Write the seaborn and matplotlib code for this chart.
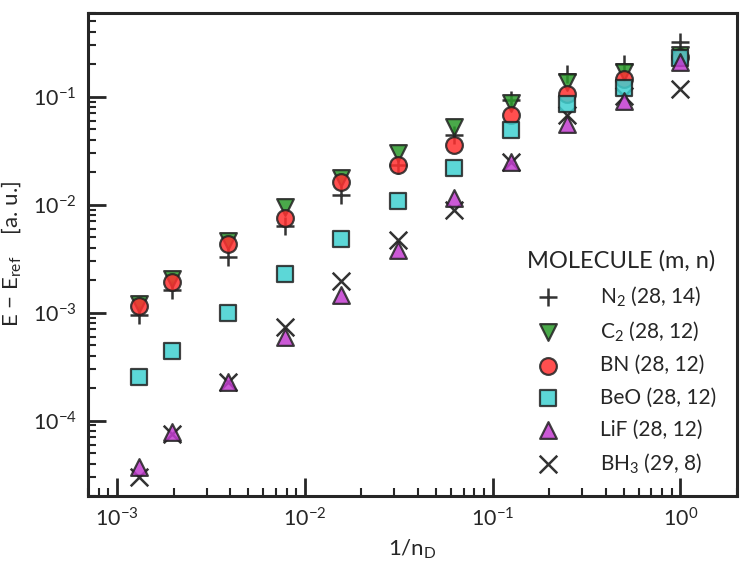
import numpy as np
import pandas as pd
import matplotlib
matplotlib.use("Agg")
import matplotlib.pyplot as plt
import seaborn as sns

# data
n_d = [768, 512, 256, 128, 64, 32, 16, 8, 4, 2, 1]
inv_nd = [1.0 / n for n in n_d]

err_n2 = [9.5e-4, 1.63e-3, 3.3e-3, 6.4e-3, 1.24e-2, 2.35e-2, 4.4e-2, 9.4e-2, 0.163, 0.202, 0.32]
err_c2 = [1.2e-3, 2.07e-3, 4.6e-3, 9.6e-3, 1.75e-2, 3.03e-2, 5.2e-2, 8.8e-2, 0.136, 0.17, 0.245]
err_bn = [1.14e-3, 1.94e-3, 4.35e-3, 7.6e-3, 1.63e-2, 2.35e-2, 3.6e-2, 6.8e-2, 0.107, 0.147, 0.235]
err_beo = [2.55e-4, 4.45e-4, 1.0e-3, 2.3e-3, 4.85e-3, 1.07e-2, 2.2e-2, 4.95e-2, 0.086, 0.121, 0.23]
err_lif = [3.75e-5, 7.9e-5, 2.3e-4, 6.0e-4, 1.47e-3, 3.8e-3, 1.16e-2, 2.5e-2, 0.056, 0.092, 0.21]
err_bh3 = [2.97e-5, 7.5e-5, 2.3e-4, 7.4e-4, 1.98e-3, 4.7e-3, 9.0e-3, 2.5e-2, 0.067, 0.102, 0.118]

labels = ["N$_2$ (28, 14)", "C$_2$ (28, 12)", "BN (28, 12)",
          "BeO (28, 12)", "LiF (28, 12)", "BH$_3$ (29, 8)"]
series = [err_n2, err_c2, err_bn, err_beo, err_lif, err_bh3]
markers = ["+", "v", "o", "s", "^", "x"]
colors = ["#333333", "#2a9a2a", "#ff3030", "#3fd0d0", "#c23ccf", "#333333"]
zorders = [2.0, 2.1, 2.2, 2.3, 2.4, 1.9]

sns.set_style("ticks")
plt.rcParams["font.family"] = ["Lato", "DejaVu Sans"]
plt.rcParams["mathtext.fontset"] = "custom"
plt.rcParams["mathtext.rm"] = "Lato"
plt.rcParams["mathtext.it"] = "Lato:italic"
plt.rcParams["mathtext.bf"] = "Lato:bold"

fig = plt.figure(figsize=(7.5, 5.63), dpi=100)
ax = fig.add_axes([0.1173, 0.119, 0.8654, 0.8584])

for lab, vals, mk, col, zo in zip(labels, series, markers, colors, zorders):
    df = pd.DataFrame({"x": inv_nd, "y": vals})
    if mk in ("+", "x"):
        sns.scatterplot(data=df, x="x", y="y", ax=ax, marker=mk, s=160,
                        color=col, linewidth=1.8, label=lab, zorder=zo)
    else:
        sns.scatterplot(data=df, x="x", y="y", ax=ax, marker=mk, s=145,
                        color=col, edgecolor="#222222", linewidth=1.6,
                        alpha=0.85, label=lab, zorder=zo)

ax.set_xscale("log")
ax.set_yscale("log")
ax.set_xlim(7e-4, 2.0)
ax.set_ylim(2e-5, 0.6)

ax.set_xlabel("1/n$_{\\rm D}$", fontsize=16, labelpad=5)
ax.set_ylabel("E $-$ E$_{\\rm ref}$    [a. u.]", fontsize=16, labelpad=7)

ax.tick_params(which="major", direction="in", length=13, width=2,
               labelsize=15.5, top=False, right=False, pad=8)
ax.tick_params(which="minor", direction="in", length=6, width=1.5,
               top=False, right=False)
for sp in ax.spines.values():
    sp.set_linewidth(2.2)

handles, labs = ax.get_legend_handles_labels()
leg = ax.legend(handles, labs, title="MOLECULE (m, n)", loc="lower right",
                frameon=False, fontsize=15, title_fontsize=17,
                labelspacing=0.58, handletextpad=1.5, borderaxespad=0.6)

fig.savefig("out.png", dpi=100)
